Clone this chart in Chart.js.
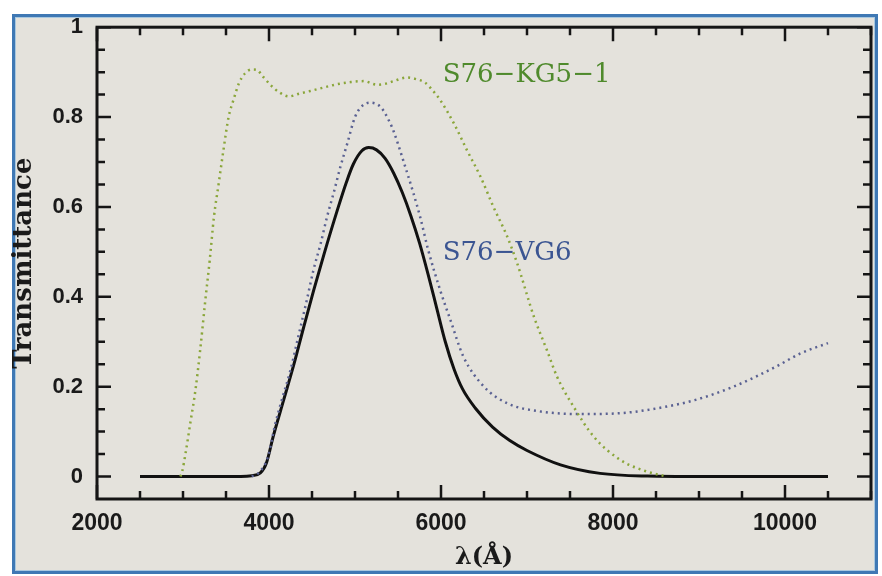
<!DOCTYPE html>
<html>
<head>
<meta charset="utf-8">
<script src="https://cdn.jsdelivr.net/npm/chart.js@4.4.1/dist/chart.umd.min.js"></script>
<style>
  html, body { margin: 0; padding: 0; background: #ffffff; }
  #wrap { position: relative; width: 882px; height: 576px; overflow: hidden; }
  #frame {
    position: absolute; left: 12px; top: 14px; width: 860px; height: 554px;
    border: 3px solid #3f78b4; background: #e4e2dc;
    box-shadow: inset 0 0 0 1px #a9c8df;
  }
  #box { position: absolute; left: 0; top: 0; width: 882px; height: 576px; }
</style>
</head>
<body>
<div id="wrap">
  <div id="frame"></div>
  <div id="box"><canvas id="myChartFilters"></canvas></div>
</div>
<script>
// wavelength (Angstrom) / transmittance
const blackWave = [2500, 3000, 3500, 3800, 3900, 3970, 4050, 4170, 4290, 4400, 4520, 4640, 4790, 4900, 4980, 5080, 5160, 5250, 5350, 5450, 5550, 5650, 5750, 5850, 5950, 6050, 6150, 6250, 6400, 6600, 6800, 7000, 7390, 7850, 8400, 9000, 10500];
const blackTrans = [0, 0, 0, 0.002, 0.008, 0.03, 0.09, 0.17, 0.25, 0.33, 0.415, 0.495, 0.59, 0.655, 0.695, 0.725, 0.732, 0.727, 0.708, 0.675, 0.632, 0.58, 0.52, 0.45, 0.375, 0.30, 0.24, 0.195, 0.152, 0.11, 0.08, 0.058, 0.026, 0.007, 0.001, 0, 0];

const vgWave = [3800, 3900, 3990, 4070, 4150, 4250, 4340, 4440, 4515, 4600, 4675, 4750, 4830, 4910, 5000, 5090, 5180, 5300, 5400, 5450, 5560, 5680, 5760, 5850, 5990, 6110, 6260, 6500, 6770, 7150, 7650, 8150, 8630, 8950, 9400, 9900, 10180, 10500];
const vgTrans = [0, 0.012, 0.045, 0.115, 0.171, 0.237, 0.311, 0.393, 0.458, 0.518, 0.578, 0.63, 0.689, 0.741, 0.80, 0.826, 0.832, 0.822, 0.79, 0.768, 0.704, 0.63, 0.576, 0.505, 0.415, 0.348, 0.267, 0.200, 0.163, 0.145, 0.139, 0.142, 0.156, 0.170, 0.200, 0.245, 0.274, 0.297];

const kgWave = [2970, 2990, 3030, 3085, 3145, 3200, 3260, 3310, 3360, 3415, 3470, 3530, 3590, 3650, 3720, 3800, 3860, 3930, 4015, 4120, 4230, 4350, 4480, 4640, 4790, 4950, 5100, 5256, 5350, 5450, 5600, 5700, 5820, 5900, 5990, 6150, 6300, 6460, 6610, 6770, 6885, 7080, 7230, 7350, 7540, 7775, 8085, 8395, 8630];
const kgTrans = [0, 0.011, 0.052, 0.119, 0.193, 0.282, 0.393, 0.48, 0.578, 0.652, 0.726, 0.80, 0.840, 0.875, 0.897, 0.906, 0.905, 0.89, 0.872, 0.855, 0.846, 0.852, 0.858, 0.866, 0.873, 0.878, 0.880, 0.872, 0.874, 0.880, 0.888, 0.885, 0.876, 0.86, 0.838, 0.786, 0.727, 0.667, 0.600, 0.534, 0.475, 0.356, 0.282, 0.222, 0.156, 0.089, 0.037, 0.011, 0];

const xTicks = [2000, 4000, 6000, 8000, 10000];
const yTicks = [0, 0.2, 0.4, 0.6, 0.8, 1];

const toPoints = (xs, ys) => xs.map((x, i) => ({x: x, y: ys[i]}));

// inward ticks on all four sides, frame and curve labels
const framePlugin = {
  id: 'frame',
  afterDraw(chart) {
    const ctx = chart.ctx;
    const a = chart.chartArea;
    const xs = chart.scales.x;
    const ys = chart.scales.y;
    ctx.save();
    ctx.strokeStyle = '#151515';
    ctx.lineWidth = 3;
    ctx.strokeRect(a.left, a.top, a.right - a.left, a.bottom - a.top);
    ctx.lineWidth = 2.5;
    ctx.beginPath();
    for (let v = 2000; v <= 11000; v += 500) {
      const px = xs.getPixelForValue(v);
      const len = v % 2000 === 0 ? 14 : 8;
      ctx.moveTo(px, a.bottom); ctx.lineTo(px, a.bottom - len);
      ctx.moveTo(px, a.top); ctx.lineTo(px, a.top + len);
    }
    for (let i = 0; i <= 20; i++) {
      const v = i * 0.05;
      const py = ys.getPixelForValue(v);
      const len = i % 4 === 0 ? 14 : 8;
      ctx.moveTo(a.left, py); ctx.lineTo(a.left + len, py);
      ctx.moveTo(a.right, py); ctx.lineTo(a.right - len, py);
    }
    ctx.stroke();

    ctx.font = '26px "DejaVu Serif"';
    ctx.textBaseline = 'middle';
    ctx.textAlign = 'left';
    ctx.fillStyle = '#4f8a2c';
    ctx.fillText('S76\u2212KG5\u22121', xs.getPixelForValue(6020), ys.getPixelForValue(0.893));
    ctx.fillStyle = '#3b5592';
    ctx.fillText('S76\u2212VG6', xs.getPixelForValue(6020), ys.getPixelForValue(0.497));
    ctx.restore();
  }
};

document.addEventListener('DOMContentLoaded', function() {
  const ctx = document.getElementById('myChartFilters').getContext('2d');
  new Chart(ctx, {
    type: 'line',
    data: {
      datasets: [
        {
          label: 'S76-KG5-1',
          data: toPoints(kgWave, kgTrans),
          borderColor: '#8aa63a',
          borderWidth: 2.5,
          borderDash: [2, 4],
          pointRadius: 0,
          cubicInterpolationMode: 'monotone'
        },
        {
          label: 'S76-VG6',
          data: toPoints(vgWave, vgTrans),
          borderColor: '#5a6192',
          borderWidth: 2.5,
          borderDash: [2, 4],
          pointRadius: 0,
          cubicInterpolationMode: 'monotone'
        },
        {
          label: 'total',
          data: toPoints(blackWave, blackTrans),
          borderColor: '#111111',
          borderWidth: 3,
          pointRadius: 0,
          cubicInterpolationMode: 'monotone'
        }
      ]
    },
    options: {
      responsive: true,
      maintainAspectRatio: false,
      animation: false,
      layout: { padding: { left: 0, top: 27, right: 11, bottom: 0 } },
      plugins: { legend: { display: false }, tooltip: { enabled: false } },
      scales: {
        x: {
          type: 'linear',
          min: 2000,
          max: 11000,
          grid: { display: false, drawTicks: false },
          border: { display: false },
          afterBuildTicks: s => { s.ticks = xTicks.map(v => ({value: v})); },
          afterFit: s => { s.height = 77; },
          ticks: {
            padding: 11,
            color: '#1a1a1a',
            font: { family: '"Liberation Sans", Arial', size: 23, weight: 'bold' },
            callback: v => String(v)
          },
          title: {
            display: true,
            text: '\u03bb(\u00c5)',
            color: '#1a1a1a',
            padding: { top: 0, bottom: 4 },
            font: { family: '"DejaVu Serif"', size: 24, weight: 'bold' }
          }
        },
        y: {
          min: -0.05,
          max: 1,
          grid: { display: false, drawTicks: false },
          border: { display: false },
          afterBuildTicks: s => { s.ticks = yTicks.map(v => ({value: v})); },
          afterFit: s => { s.width = 97; },
          ticks: {
            padding: 14,
            color: '#1a1a1a',
            font: { family: '"Liberation Sans", Arial', size: 22, weight: 'bold' },
            callback: v => String(Math.round(v * 10) / 10)
          },
          title: {
            display: true,
            text: 'Transmittance',
            color: '#1a1a1a',
            padding: { top: 9, bottom: 0 },
            font: { family: '"DejaVu Serif"', size: 26, weight: 'bold' }
          }
        }
      }
    },
    plugins: [framePlugin]
  });
});
</script>
</body>
</html>
